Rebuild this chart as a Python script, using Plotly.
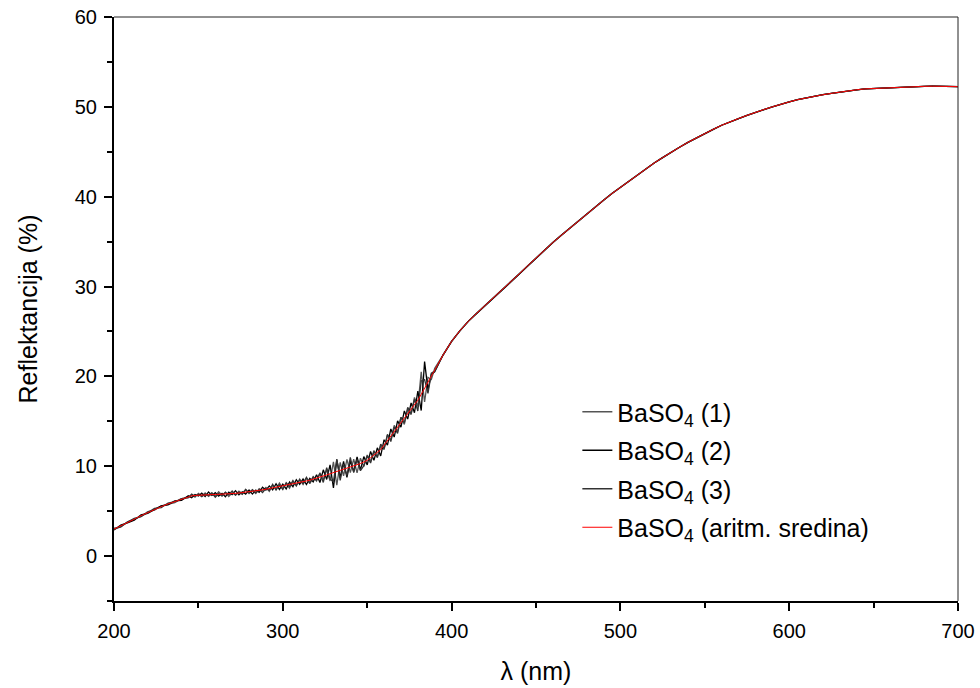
import numpy as np
import plotly.graph_objects as go

# ---- data (wavelength in nm, reflectance in %) ----
wl_lo = list(range(200, 245, 4))          # 200..244
mean_lo = [3.0, 3.35, 3.7, 4.1, 4.5, 4.85, 5.2, 5.5, 5.8, 6.05, 6.3, 6.6]

wl_mid = list(range(246, 391, 2))         # 246..390
mean_mid = [6.70, 6.75, 6.78, 6.80, 6.82, 6.84, 6.85, 6.86, 6.87, 6.88,
            6.90, 6.92, 6.95, 6.98, 7.02, 7.06, 7.10, 7.15, 7.20, 7.25,
            7.30, 7.37, 7.44, 7.51, 7.58, 7.65, 7.72, 7.80, 7.87, 7.94,
            8.02, 8.10, 8.18, 8.27, 8.36, 8.45, 8.55, 8.65, 8.78, 8.90,
            9.03, 9.16, 9.28, 9.40, 9.52, 9.64, 9.76, 9.88, 10.00, 10.15,
            10.30, 10.47, 10.65, 10.95, 11.25, 11.55, 11.85, 12.35, 12.85, 13.35,
            13.85, 14.35, 14.85, 15.35, 15.85, 16.35, 16.85, 17.35, 18.00, 18.65,
            19.30, 19.95, 20.70]

wl_hi = list(range(395, 701, 5))          # 395..700
mean_hi = [22.4, 23.9, 25.1, 26.15, 27.05, 27.9, 28.75, 29.6, 30.5, 31.4,
           32.3, 33.2, 34.05, 34.9, 35.7, 36.5, 37.3, 38.1, 38.85, 39.6,
           40.35, 41.05, 41.75, 42.45, 43.1, 43.75, 44.35, 44.95, 45.5, 46.05,
           46.55, 47.05, 47.5, 47.95, 48.35, 48.7, 49.05, 49.4, 49.7, 50.0,
           50.3, 50.55, 50.8, 51.0, 51.2, 51.35, 51.5, 51.65, 51.78, 51.9,
           52.0, 52.05, 52.1, 52.15, 52.2, 52.25, 52.27, 52.28, 52.3, 52.3,
           52.28, 52.25]

# deviations of the individual measurements from the mean (tenths of %)
dev1_lo = [1, -1, 1, 0, -1, 1, -1, 1, 0, -1, 1, -1]
dev2_lo = [-1, 1, 0, -1, 1, -1, 0, 1, -1, 1, -1, 1]
dev3_lo = [0, -1, 1, 1, -1, 0, 1, -1, 1, 0, 1, -1]

dev1_mid = [1, -2, 2, -1, 2, -2, 1, -2, 3, -1, 2, -3, 1, -2, 2, -1, 3, -2, 1, -3, 2, -1, 2,
            -3, 3, -2, 4, -3, 2, -4, 3, -2, 4, -3, 3, -4, 2, -3,
            5, -4, 6, -8, 12, -15, 9, -7, 10, -6, 8, -9, 6,
            -5, 6, -4, 5, -6, 4, -5, 6, -4, 7, -5, 6, -7, 5,
            -6, 8, -7, 25, -15, 6, -3, 2]
dev2_mid = [-2, 1, -1, 2, -2, 3, -1, 2, -2, 1, -3, 2, -1, 3, -2, 1, -2, 2, -3, 1, -2, 3, -1,
            3, -2, 4, -3, 2, -4, 3, -3, 4, -2, 3, -4, 2, -3, 4,
            -6, 7, -5, 10, -17, 13, -8, 9, -10, 7, -6, 9, -7,
            6, -5, 7, -6, 5, -7, 6, -5, 8, -6, 7, -5, 8, -6,
            7, -9, 10, -18, 30, -8, 3, -2]
dev3_mid = [2, -1, 1, -2, 1, -1, 2, -3, 1, -2, 2, -1, 3, -2, 1, -2, 3, -1, 2, -2, 1, -3, 1,
            -2, 4, -3, 2, -4, 3, -2, 4, -3, 3, -2, 4, -3, 3, -2,
            4, -7, 8, -6, -10, 14, -11, 6, -8, 11, -7, 6, -8,
            -4, 5, -6, 4, -5, 6, -4, 7, -6, 5, -7, 6, -5, 7,
            -5, 6, -12, 15, 10, -12, 4, -1]

names = ["BaSO<sub>4</sub> (1)", "BaSO<sub>4</sub> (2)", "BaSO<sub>4</sub> (3)",
         "BaSO<sub>4</sub> (aritm. sredina)"]
x_ticks = [200, 300, 400, 500, 600, 700]
y_ticks = [0, 10, 20, 30, 40, 50, 60]

# ---- assemble series ----
wl = np.array(wl_lo + wl_mid + wl_hi, dtype=float)
mean = np.array(mean_lo + mean_mid + mean_hi)
zeros_hi = [0] * len(wl_hi)
devs = [dev1_lo + dev1_mid + zeros_hi,
        dev2_lo + dev2_mid + zeros_hi,
        dev3_lo + dev3_mid + zeros_hi]

colors = ["#555555", "#000000", "#333333"]
font_family = "Arial, 'Liberation Sans', sans-serif"

fig = go.Figure()
for i in range(3):
    fig.add_trace(go.Scatter(x=wl, y=mean + np.array(devs[i]) / 10.0,
                             mode="lines", name=names[i], legendgroup=f"g{i}",
                             line=dict(color=colors[i], width=1.3)))
fig.add_trace(go.Scatter(x=wl, y=mean, mode="lines", name=names[3], legendgroup="g3",
                         line=dict(color="#ff0000", width=1.0)))

axis_common = dict(
    showgrid=False, zeroline=False, showline=True, linecolor="black",
    linewidth=2, ticks="outside", ticklen=8, tickwidth=2, tickcolor="black",
    automargin=False, ticklabelstandoff=3, ticklabeloverflow="allow",
    tickfont=dict(family=font_family, size=20, color="black"),
    minor=dict(ticks="outside", ticklen=5, tickwidth=2, tickcolor="black"),
)

fig.update_xaxes(range=[200, 700], tickvals=x_ticks, minor_dtick=50,
                 title=dict(text="λ (nm)", font=dict(family=font_family, size=25, color="black"),
                            standoff=21),
                 **axis_common)
fig.update_yaxes(range=[-5, 60], tickvals=y_ticks, minor_dtick=5, minor_tick0=0,
                 title=dict(text="Reflektancija (%)", font=dict(family=font_family, size=25, color="black"),
                            standoff=30),
                 **axis_common)

fig.add_shape(type="line", xref="paper", yref="paper", x0=0, x1=1, y0=1, y1=1,
              line=dict(color="#222222", width=1))
fig.add_shape(type="line", xref="paper", yref="paper", x0=1, x1=1, y0=0, y1=1,
              line=dict(color="#222222", width=1))

fig.update_layout(
    width=980, height=688, autosize=False,
    margin=dict(l=114, r=22, t=17, b=87),
    plot_bgcolor="white", paper_bgcolor="white",
    font=dict(family=font_family, color="black"),
    legend=dict(x=0.549, y=0.363, xanchor="left", yanchor="top",
                bgcolor="rgba(0,0,0,0)", font=dict(family=font_family, size=25, color="black"),
                traceorder="grouped", tracegroupgap=3, itemwidth=30),
    showlegend=True,
)

fig.write_html("out.html", config={"displayModeBar": False},
               post_script="document.body.style.margin='0';")
